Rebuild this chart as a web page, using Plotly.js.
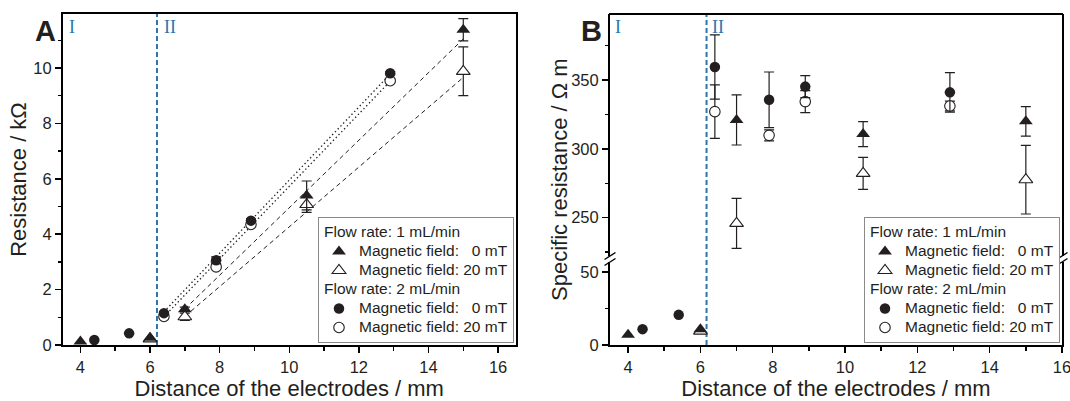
<!DOCTYPE html>
<html>
<head>
<meta charset="utf-8">
<script src="https://cdn.plot.ly/plotly-3.0.1.min.js"></script>
<style>
html,body{margin:0;padding:0;background:#ffffff;}
#chart{width:1070px;height:401px;}
</style>
</head>
<body>
<div id="chart"></div>
<script>
// ---------- Panel A: resistance / kOhm ----------
const a_x_f1_0  = [4, 6, 7, 10.5, 15];
const a_y_f1_0  = [0.13, 0.26, 1.29, 5.40, 11.38];
const a_e_f1_0  = [NaN, NaN, 0.08, 0.52, 0.40];
const a_x_f1_20 = [6, 7, 10.5, 15];
const a_y_f1_20 = [0.22, 1.02, 5.07, 9.88];
const a_e_f1_20 = [NaN, 0.13, 0.28, 0.88];
const a_x_f2_0  = [4.4, 5.4, 6.4, 7.9, 8.9, 12.9];
const a_y_f2_0  = [0.18, 0.42, 1.15, 3.06, 4.49, 9.81];
const a_e_f2_0  = [NaN, NaN, 0.05, 0.12, 0.06, 0.06];
const a_x_f2_20 = [6.4, 7.9, 8.9, 12.9];
const a_y_f2_20 = [1.03, 2.82, 4.35, 9.54];
const a_e_f2_20 = [0.05, 0.05, 0.05, 0.05];
// linear fit lines (end points)
const fit_x_f1    = [7, 15];
const fit_y_f1_0  = [1.30, 11.05];
const fit_y_f1_20 = [1.03, 9.66];
const fit_x_f2    = [6.4, 12.9];
const fit_y_f2_0  = [1.20, 9.78];
const fit_y_f2_20 = [1.02, 9.52];

// ---------- Panel B: specific resistance / Ohm m ----------
const b_x_f1_0  = [4, 6, 7, 10.5, 15];
const b_y_f1_0  = [7.0, 10.9, 321.0, 310.7, 320.0];
const b_e_f1_0  = [NaN, NaN, 18.2, 9.1, 10.7];
const b_x_f1_20 = [6, 7, 10.5, 15];
const b_y_f1_20 = [9.5, 245.9, 282.2, 277.6];
const b_e_f1_20 = [NaN, 18.2, 11.6, 24.9];
const b_x_f2_0  = [4.4, 5.4, 6.4, 7.9, 8.9, 12.9];
const b_y_f2_0  = [10.9, 20.7, 359.4, 335.6, 345.2, 341.0];
const b_e_f2_0  = [NaN, NaN, 23.3, 20.2, 8.0, 14.3];
const b_x_f2_20 = [6.4, 7.9, 8.9, 12.9];
const b_y_f2_20 = [327.0, 309.8, 334.3, 331.1];
const b_e_f2_20 = [19.4, 4.0, 8.0, 3.5];

// ---------- labels ----------
const groupTitles = ['Flow rate: 1 mL/min', 'Flow rate: 2 mL/min'];
const itemLabels  = ['Magnetic field: \u00a0\u00a00 mT', 'Magnetic field: 20 mT'];
const xTitle  = 'Distance of the electrodes / mm';
const yTitleA = 'Resistance / k\u03a9';
const yTitleB = 'Specific resistance / \u03a9 m';
const regionLabels = ['I', 'II'];
const panelLabels = ['A', 'B'];

// ---------- styling ----------
const FONT = 'Liberation Sans, Arial, Helvetica, sans-serif';
const SERIF = 'Liberation Serif, Times New Roman, serif';
const INK = '#231f20';
const BLUE = '#2b74ad';
const big = t => '<span style="font-size:15.5px">' + t + '</span>';

function pts(x, y, e, sym, filled, xa, ya, extra) {
  return Object.assign({
    type: 'scatter', mode: 'markers', x: x, y: y, xaxis: xa, yaxis: ya,
    marker: {symbol: sym, size: sym === 'circle' ? 10.5 : 12,
             color: filled ? INK : '#ffffff',
             line: {color: INK, width: filled ? 0 : 1.1}},
    error_y: {type: 'data', array: e, visible: true, color: INK, thickness: 1.2, width: 5},
    hoverinfo: 'skip'
  }, extra);
}
function leg(legend, gi, ii, rank) {
  return {legend: legend, legendgroup: legend + 'g' + gi, legendrank: rank,
          name: big(itemLabels[ii]),
          legendgrouptitle: {text: big(groupTitles[gi]), font: {family: FONT, size: 12, color: INK}}};
}
function fit(x, y, dash, xa, ya) {
  return {type: 'scatter', mode: 'lines', x: x, y: y, xaxis: xa, yaxis: ya,
          line: {color: INK, width: dash === 'dot' ? 1.3 : 1, dash: dash === 'dot' ? '1.4px,2.6px' : '4.5px,3.5px'},
          showlegend: false, hoverinfo: 'skip'};
}

const traces = [
  fit(fit_x_f2, fit_y_f2_0, 'dot', 'x', 'y'),
  fit(fit_x_f2, fit_y_f2_20, 'dot', 'x', 'y'),
  fit(fit_x_f1, fit_y_f1_0, 'dash', 'x', 'y'),
  fit(fit_x_f1, fit_y_f1_20, 'dash', 'x', 'y'),
  // Panel A markers (open drawn first, filled on top)
  pts(a_x_f1_20, a_y_f1_20, a_e_f1_20, 'triangle-up', false, 'x', 'y', Object.assign({cliponaxis: false}, leg('legend', 0, 1, 2))),
  pts(a_x_f1_0,  a_y_f1_0,  a_e_f1_0,  'triangle-up', true,  'x', 'y', Object.assign({cliponaxis: false}, leg('legend', 0, 0, 1))),
  pts(a_x_f2_20, a_y_f2_20, a_e_f2_20, 'circle', false, 'x', 'y', Object.assign({cliponaxis: false}, leg('legend', 1, 1, 4))),
  pts(a_x_f2_0,  a_y_f2_0,  a_e_f2_0,  'circle', true,  'x', 'y', Object.assign({cliponaxis: false}, leg('legend', 1, 0, 3))),
  // Panel B lower segment (y2) - clipped to its range
  pts(b_x_f1_20, b_y_f1_20, b_e_f1_20, 'triangle-up', false, 'x2', 'y2', {showlegend: false}),
  pts(b_x_f1_0,  b_y_f1_0,  b_e_f1_0,  'triangle-up', true,  'x2', 'y2', {showlegend: false}),
  pts(b_x_f2_20, b_y_f2_20, b_e_f2_20, 'circle', false, 'x2', 'y2', {showlegend: false}),
  pts(b_x_f2_0,  b_y_f2_0,  b_e_f2_0,  'circle', true,  'x2', 'y2', {showlegend: false}),
  // Panel B upper segment (y3)
  pts(b_x_f1_20, b_y_f1_20, b_e_f1_20, 'triangle-up', false, 'x2', 'y3', leg('legend2', 0, 1, 2)),
  pts(b_x_f1_0,  b_y_f1_0,  b_e_f1_0,  'triangle-up', true,  'x2', 'y3', leg('legend2', 0, 0, 1)),
  pts(b_x_f2_20, b_y_f2_20, b_e_f2_20, 'circle', false, 'x2', 'y3', leg('legend2', 1, 1, 4)),
  pts(b_x_f2_0,  b_y_f2_0,  b_e_f2_0,  'circle', true,  'x2', 'y3', leg('legend2', 1, 0, 3))
];

// pixel helpers for paper coordinates
const W = 1070, H = 401;
const px = v => v / W;
const py = v => (H - v) / H;

function axis(extra, minorDtick) {
  return Object.assign({
    showline: true, linecolor: '#000', linewidth: 2, mirror: true,
    ticks: 'outside', ticklen: 6, tickwidth: 1.5, tickcolor: '#000',
    showgrid: false, zeroline: false, automargin: false,
    tickfont: {family: FONT, size: 16.5, color: INK},
    minor: {dtick: minorDtick, ticks: 'outside', ticklen: 3.5, tickwidth: 1.5, tickcolor: '#000', showgrid: false}
  }, extra);
}
const titleFont = {family: FONT, size: 22, color: INK};

const legendBase = {
  xanchor: 'left', yanchor: 'bottom', y: py(343),
  bgcolor: '#ffffff', bordercolor: '#8a8a8a', borderwidth: 1,
  font: {family: FONT, size: 12, color: INK},
  tracegroupgap: 0, traceorder: 'grouped', itemwidth: 30
};

function brk(xp, yc) {
  return {type: 'line', xref: 'paper', yref: 'paper',
          x0: px(xp - 5.5), y0: py(yc + 3.5), x1: px(xp + 5.5), y1: py(yc - 3.5),
          line: {color: '#000', width: 1.4}, layer: 'above'};
}
function regionLabel(t, xp) {
  return {text: t, xref: 'paper', yref: 'paper', x: px(xp), y: py(27), showarrow: false,
          xanchor: 'center', yanchor: 'middle', font: {family: SERIF, size: 18, color: BLUE}};
}
function panelLabel(t, xp) {
  return {text: '<b>' + t + '</b>', xref: 'paper', yref: 'paper', x: px(xp), y: py(31),
          showarrow: false, xanchor: 'center', yanchor: 'middle', font: {family: FONT, size: 29, color: INK}};
}

const layout = {
  width: W, height: H,
  margin: {l: 0, r: 0, t: 0, b: 0},
  paper_bgcolor: '#ffffff', plot_bgcolor: 'rgba(0,0,0,0)',
  font: {family: FONT, color: INK},
  showlegend: true,
  xaxis: axis({domain: [px(63), px(515.5)], anchor: 'y', range: [3.5, 16.5], tick0: 0, dtick: 2,
               title: {text: xTitle, font: titleFont, standoff: 17}}, 1),
  yaxis: axis({domain: [py(345), py(14)], anchor: 'x', range: [0, 11.95], tick0: 0, dtick: 2,
               title: {text: yTitleA, font: titleFont, standoff: 1}}, 1),
  xaxis2: axis({domain: [px(610), px(1062)], anchor: 'y2', range: [3.5, 16], tick0: 0, dtick: 2, mirror: false,
                ticklabeloverflow: 'allow',
                title: {text: xTitle, font: titleFont, standoff: 17}}, 1),
  yaxis2: axis({domain: [py(345), py(262)], anchor: 'x2', range: [0, 57], tick0: 0, dtick: 50}, 25),
  yaxis3: axis({domain: [py(256), py(14)], anchor: 'x2', range: [222.2, 397.9], tick0: 0, dtick: 50}, 25),
  legend: Object.assign({x: px(318)}, legendBase),
  legend2: Object.assign({x: px(864)}, legendBase),
  shapes: [
    {type: 'line', xref: 'x', yref: 'paper', x0: 6.2, x1: 6.2, y0: py(345), y1: py(14),
     line: {color: BLUE, width: 2, dash: '5px,3px'}, layer: 'below'},
    {type: 'line', xref: 'x2', yref: 'paper', x0: 6.17, x1: 6.17, y0: py(345), y1: py(14),
     line: {color: BLUE, width: 2, dash: '5px,3px'}, layer: 'below'},
    {type: 'line', xref: 'paper', yref: 'paper', x0: px(609), x1: px(1063), y0: py(14), y1: py(14),
     line: {color: '#000', width: 2}, layer: 'above'},
    brk(610, 262), brk(610, 256), brk(1062, 262), brk(1062, 256)
  ],
  annotations: [
    panelLabel(panelLabels[0], 45), panelLabel(panelLabels[1], 591),
    regionLabel(regionLabels[0], 72), regionLabel(regionLabels[1], 170),
    regionLabel(regionLabels[0], 618), regionLabel(regionLabels[1], 718),
    {text: yTitleB, xref: 'paper', yref: 'paper', x: px(559), y: py(180), textangle: -90, showarrow: false,
     xanchor: 'center', yanchor: 'middle', font: titleFont}
  ]
};

Plotly.newPlot('chart', traces, layout, {staticPlot: true, displayModeBar: false});
</script>
</body>
</html>
